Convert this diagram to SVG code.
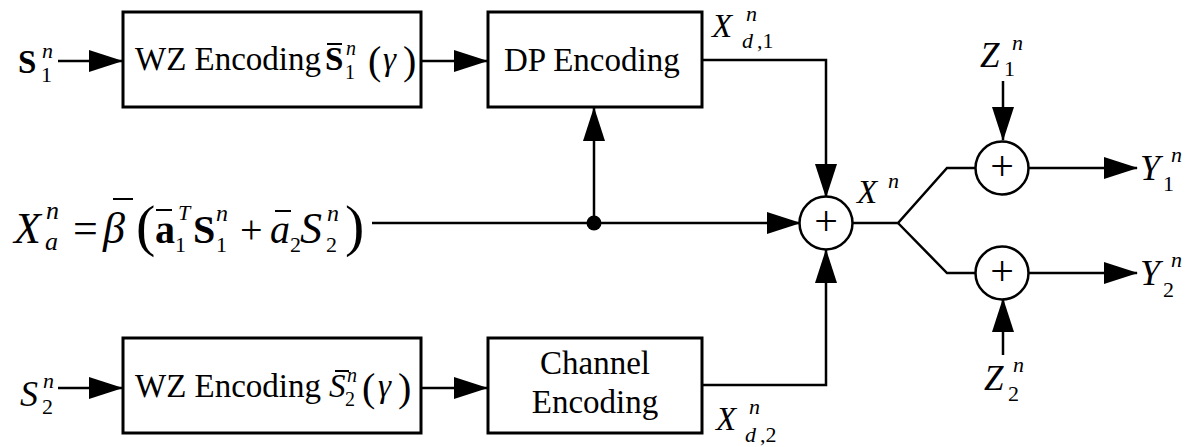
<svg xmlns="http://www.w3.org/2000/svg" width="1186" height="447" viewBox="0 0 1186 447" font-family="'Liberation Serif', Tinos, 'Times New Roman', 'DejaVu Serif', 'Noto Serif', serif">
<defs>
<marker id="ah" markerUnits="userSpaceOnUse" markerWidth="34" markerHeight="22" viewBox="0 0 34 22" refX="33" refY="11" orient="auto">
<path d="M0,0 L34,11 L0,22 Z" fill="#000"/>
</marker>
<style>
text{font-family:'Liberation Serif', Tinos, 'Times New Roman', 'DejaVu Serif', 'Noto Serif', serif;fill:#000}
.i{font-style:italic}
.b{font-weight:bold}
.box{fill:#fff;stroke:#000;stroke-width:3}
.sum{fill:#fff;stroke:#000;stroke-width:2.5}
.ln{fill:none;stroke:#000;stroke-width:2.5}
.bar{stroke:#000;stroke-width:2}
.arr{marker-end:url(#ah)}
</style>
</defs>
<rect width="1186" height="447" fill="#fff"/>

<g id="connectors">
<path class="ln arr" d="M58,61 H122"/>
<path class="ln arr" d="M421,61 H487"/>
<path class="ln arr" d="M594,223 V108"/>
<path class="ln arr" d="M702,60 H826 V197"/>
<path class="ln arr" d="M372,223 H800"/>
<path class="ln arr" d="M702,385 H826 V250"/>
<path class="ln arr" d="M58,388 H122"/>
<path class="ln arr" d="M421,388 H487"/>
<path class="ln" d="M853,223 H898 L947,168 H975"/>
<path class="ln" d="M898,223 L947,273 H975"/>
<path class="ln arr" d="M1029,168 H1137"/>
<path class="ln arr" d="M1029,273 H1137"/>
<path class="ln arr" d="M1003,81 V140"/>
<path class="ln arr" d="M1003,355 V299"/>
<circle cx="594" cy="223" r="7.5" fill="#000"/>
</g>

<g id="s1-label">
<text class="b" x="18" y="73" font-size="33">S</text>
<text x="41" y="82" font-size="22">1</text>
<text class="i" x="42" y="58" font-size="22">n</text>
</g>

<g id="wz1">
<rect class="box" x="123" y="12" width="298" height="95"/>
<text x="135" y="70" font-size="33">WZ Encoding</text>
<text class="b" x="325" y="70" font-size="33">S</text>
<line class="bar" x1="327" y1="44" x2="342" y2="44"/>
<text x="345" y="79" font-size="20">1</text>
<text class="i" x="346" y="55" font-size="20">n</text>
<text x="368" y="74" font-size="40">(</text>
<text class="i" x="383" y="70" font-size="33">γ</text>
<text x="403" y="74" font-size="40">)</text>
</g>

<g id="dp">
<rect class="box" x="488" y="12" width="214" height="95"/>
<text x="504" y="71" font-size="33">DP Encoding</text>
</g>

<g id="xd1-label">
<text class="i" x="712" y="37" font-size="33">X</text>
<text class="i" x="746" y="21" font-size="22">n</text>
<text class="i" x="742" y="48" font-size="22">d</text>
<text x="757" y="48" font-size="22">,1</text>
</g>

<g id="xa-expr">
<text class="i" x="14" y="243" font-size="44">X</text>
<text class="i" x="46" y="219" font-size="26">n</text>
<text class="i" x="45" y="250" font-size="26">a</text>
<text x="73" y="243" font-size="44">=</text>
<text class="i" x="103" y="243" font-size="44">β</text>
<line class="bar" x1="113" y1="199" x2="133" y2="199"/>
<text x="136" y="245" font-size="58">(</text>
<text class="b" x="155" y="243" font-size="40">a</text>
<line class="bar" x1="156" y1="210" x2="172" y2="210"/>
<text x="175" y="252" font-size="22">1</text>
<text class="i" x="178" y="220" font-size="22">T</text>
<text class="b" x="193" y="243" font-size="40">S</text>
<text x="216" y="252" font-size="22">1</text>
<text class="i" x="216" y="221" font-size="24">n</text>
<text x="240" y="243" font-size="40">+</text>
<text class="i" x="270" y="243" font-size="40">a</text>
<line class="bar" x1="275" y1="211" x2="291" y2="211"/>
<text x="290" y="252" font-size="22">2</text>
<text class="i" x="300" y="243" font-size="44">S</text>
<text x="326" y="252" font-size="22">2</text>
<text class="i" x="327" y="221" font-size="24">n</text>
<text x="345" y="245" font-size="58">)</text>
</g>

<g id="sum-main">
<circle class="sum" cx="826" cy="223" r="26.5"/>
<text x="826" y="235" font-size="42" text-anchor="middle">+</text>
</g>

<g id="xn-label">
<text class="i" x="857" y="203" font-size="33">X</text>
<text class="i" x="888" y="188" font-size="22">n</text>
</g>

<g id="sum-1">
<circle class="sum" cx="1002" cy="168" r="26.5"/>
<text x="1002" y="180" font-size="42" text-anchor="middle">+</text>
</g>

<g id="sum-2">
<circle class="sum" cx="1002" cy="273" r="26.5"/>
<text x="1002" y="285" font-size="42" text-anchor="middle">+</text>
</g>

<g id="z1-label">
<text class="i" x="980" y="67" font-size="35">Z</text>
<text x="1004" y="76" font-size="22">1</text>
<text class="i" x="1012" y="50" font-size="22">n</text>
</g>

<g id="z2-label">
<text class="i" x="984" y="390" font-size="35">Z</text>
<text x="1008" y="401" font-size="22">2</text>
<text class="i" x="1013" y="372" font-size="22">n</text>
</g>

<g id="y1-label">
<text class="i" x="1140" y="180" font-size="36">Y</text>
<text x="1163" y="191" font-size="22">1</text>
<text class="i" x="1171" y="162" font-size="22">n</text>
</g>

<g id="y2-label">
<text class="i" x="1140" y="285" font-size="36">Y</text>
<text x="1163" y="297" font-size="22">2</text>
<text class="i" x="1171" y="267" font-size="22">n</text>
</g>

<g id="s2-label">
<text class="i" x="20" y="406" font-size="36">S</text>
<text x="42" y="414" font-size="22">2</text>
<text class="i" x="43" y="388" font-size="22">n</text>
</g>

<g id="wz2">
<rect class="box" x="123" y="338" width="298" height="95"/>
<text x="135" y="397" font-size="33">WZ Encoding</text>
<text class="i" x="329" y="397" font-size="33">S</text>
<line class="bar" x1="335" y1="371" x2="349" y2="371"/>
<text x="345" y="406" font-size="20">2</text>
<text class="i" x="347" y="382" font-size="20">n</text>
<text x="362" y="401" font-size="40">(</text>
<text class="i" x="378" y="397" font-size="33">γ</text>
<text x="398" y="401" font-size="40">)</text>
</g>

<g id="channel">
<rect class="box" x="488" y="338" width="214" height="95"/>
<text x="595" y="374" font-size="33" text-anchor="middle">Channel</text>
<text x="595" y="413" font-size="33" text-anchor="middle">Encoding</text>
</g>

<g id="xd2-label">
<text class="i" x="716" y="430" font-size="33">X</text>
<text class="i" x="749" y="414" font-size="22">n</text>
<text class="i" x="745" y="442" font-size="22">d</text>
<text x="760" y="442" font-size="22">,2</text>
</g>
</svg>
